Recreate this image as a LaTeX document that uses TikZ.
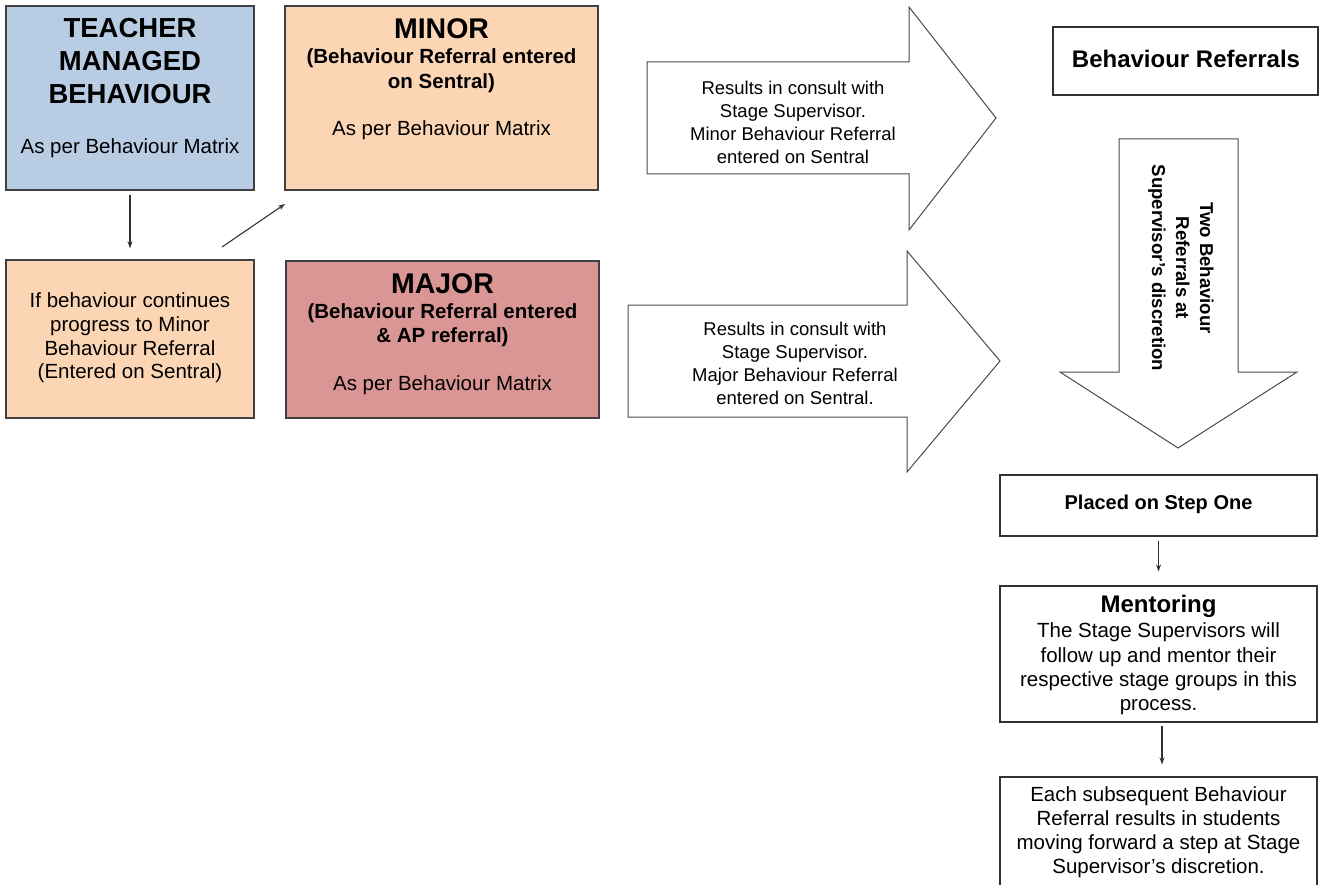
\documentclass[tikz,border=0pt]{standalone}
\usepackage{fontspec}
\setmainfont{Liberation Sans}
\usetikzlibrary{arrows.meta}
\definecolor{tmblue}{HTML}{B8CCE4}
\definecolor{peach}{HTML}{FCD5B4}
\definecolor{majred}{HTML}{DA9694}
\definecolor{edgegray}{HTML}{404040}
\definecolor{arrowgray}{HTML}{4A4A4A}
\newcommand{\fsz}[2]{\fontsize{#1}{#2}\selectfont}
\begin{document}
\begin{tikzpicture}[x=1pt,y=-1pt,
  panel/.style={draw=edgegray, line width=1.3pt, inner sep=0pt},
  plainbox/.style={draw=black!80, line width=1.1pt, fill=white, inner sep=0pt},
  txt/.style={align=center, inner sep=0pt, text=black},
  bigarrow/.style={draw=arrowgray, line width=1pt, fill=white, line join=miter},
  conn/.style={draw=black!80, line width=1.1pt, -{Stealth[length=7pt,width=5pt]}}]
\useasboundingbox (0,0) rectangle (1321,885);
\clip (0,0) rectangle (1321,885);
\fill[white] (0,0) rectangle (1321,885);

% left column boxes
\node[panel, fill=tmblue, minimum width=248pt, minimum height=184pt] (tm) at (130,98) {};
\node[txt, font=\bfseries\fsz{27.5}{33}] (tmt) at (130,61) {TEACHER\\MANAGED\\BEHAVIOUR};
\node[txt, font=\fsz{20.5}{24}] (tms) at (130,148) {As per Behaviour Matrix};

\node[panel, fill=peach, minimum width=313pt, minimum height=184pt] (minor) at (441.5,98) {};
\node[txt, font=\bfseries\fsz{28.5}{33}] (minort) at (441.5,29) {MINOR};
\node[txt, font=\bfseries\fsz{20.5}{25}] (minorb) at (441.5,71) {(Behaviour Referral entered\\on Sentral)};
\node[txt, font=\fsz{20.5}{24}] (minors) at (441.5,130) {As per Behaviour Matrix};

\node[panel, fill=peach, minimum width=248pt, minimum height=158pt] (cont) at (130,339) {};
\node[txt, font=\fsz{20.5}{23.7}] (contt) at (130,338) {If behaviour continues\\progress to Minor\\Behaviour Referral\\(Entered on Sentral)};

\node[panel, fill=majred, minimum width=313pt, minimum height=157pt] (major) at (442.5,339.5) {};
\node[txt, font=\bfseries\fsz{28.5}{33}] (majort) at (442.5,284) {MAJOR};
\node[txt, font=\bfseries\fsz{20.5}{24}] (majorb) at (442.5,325) {(Behaviour Referral entered\\\& AP referral)};
\node[txt, font=\fsz{20.5}{24}] (majors) at (442.5,385) {As per Behaviour Matrix};

% small connectors
\draw[conn, shorten <=4pt, shorten >=11pt] (tm.south) -- (cont.north);
\coordinate (dstart) at (222,247);
\coordinate (dend) at (285,204);
\draw[conn] (dstart) -- (dend);

% big right arrows
\draw[bigarrow] (647,62) -- (909,62) -- (909,7) -- (996,118) -- (909,230) -- (909,174) -- (647,174) -- cycle;
\node[txt, font=\fsz{18.5}{23}] (a1t) at (793,122) {Results in consult with\\Stage Supervisor.\\Minor Behaviour Referral\\entered on Sentral};

\draw[bigarrow] (628,305) -- (907,305) -- (907,251) -- (1000,361) -- (907,472) -- (907,417) -- (628,417) -- cycle;
\node[txt, font=\fsz{18.5}{23}] (a2t) at (795,363) {Results in consult with\\Stage Supervisor.\\Major Behaviour Referral\\entered on Sentral.};

% right column
\node[plainbox, minimum width=265pt, minimum height=68pt] (br) at (1185.5,61) {};
\node[txt, font=\bfseries\fsz{24}{28}] (brt) at (1186,59) {Behaviour Referrals};

\draw[bigarrow] (1119,139) -- (1238,139) -- (1238,372) -- (1297,372) -- (1178,448) -- (1060,372) -- (1119,372) -- cycle;
\node[txt, rotate=-90, font=\bfseries\fsz{18.6}{24}] (dt) at (1181,268) {Two Behaviour\\Referrals at\\Supervisor’s discretion};

\node[plainbox, minimum width=317pt, minimum height=61pt] (placed) at (1158.5,505.5) {};
\node[txt, font=\bfseries\fsz{20}{24}] (placedt) at (1158.5,504) {Placed on Step One};

\node[plainbox, minimum width=317pt, minimum height=136pt] (mentor) at (1158.5,654) {};
\node[txt, font=\bfseries\fsz{24}{28}] (mentort) at (1158.5,606) {Mentoring};
\node[txt, font=\fsz{20.5}{24.3}] (mentorb) at (1158.5,669) {The Stage Supervisors will\\follow up and mentor their\\respective stage groups in this\\process.};

\node[plainbox, minimum width=317pt, minimum height=150pt] (each) at (1158.5,852) {};
\node[txt, font=\fsz{20.5}{24}] (eacht) at (1158.5,832) {Each subsequent Behaviour\\Referral results in students\\moving forward a step at Stage\\Supervisor’s discretion.};

\draw[conn, shorten <=4pt, shorten >=14pt] (placed.south) -- (mentor.north);
\draw[conn, shorten <=3pt, shorten >=12pt] ([xshift=3.5pt]mentor.south) -- ([xshift=3.5pt]each.north);
\end{tikzpicture}
\end{document}
